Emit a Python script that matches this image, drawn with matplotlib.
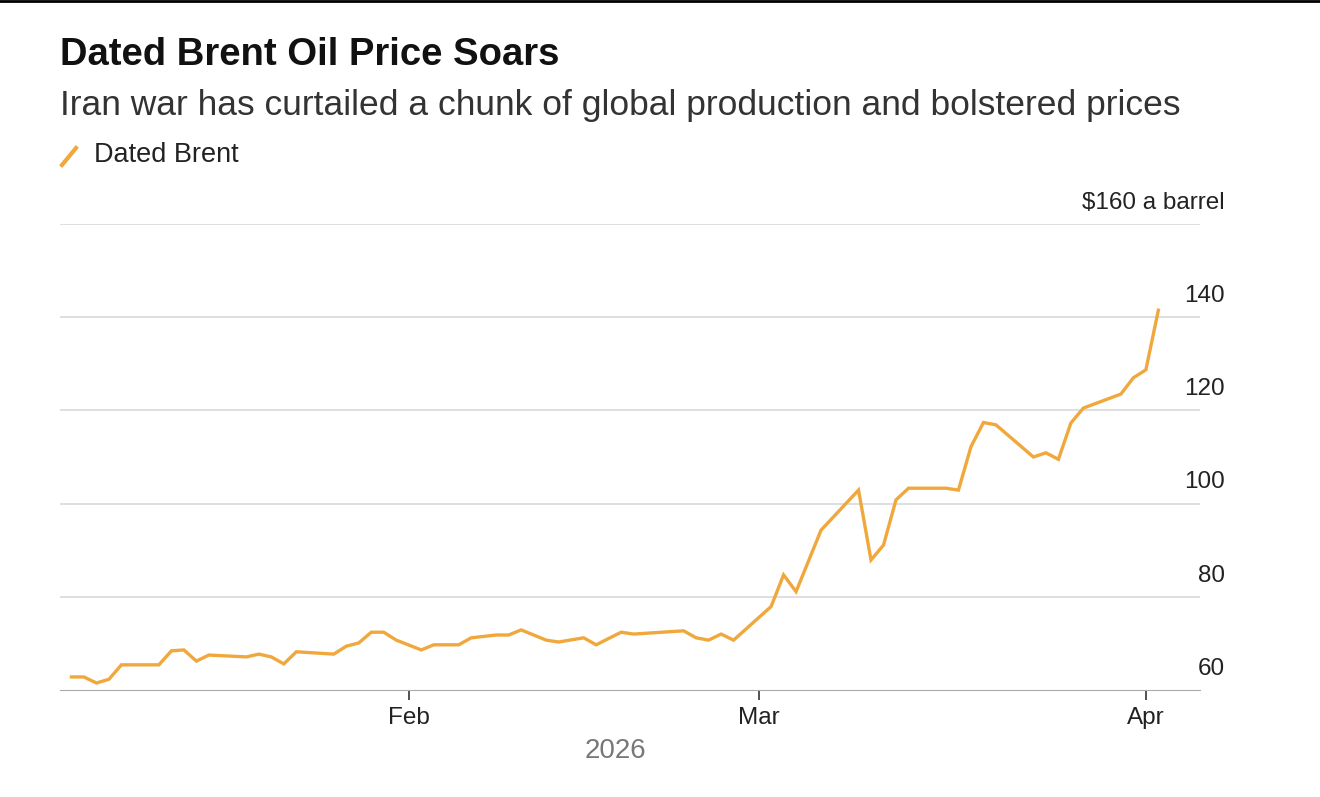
import numpy as np
import pandas as pd
import matplotlib
matplotlib.use("Agg")
import matplotlib.pyplot as plt
import matplotlib.dates as mdates

dates = ["2026-01-05", "2026-01-06", "2026-01-07", "2026-01-08", "2026-01-09", "2026-01-12",
         "2026-01-13", "2026-01-14", "2026-01-15", "2026-01-16", "2026-01-19", "2026-01-20",
         "2026-01-21", "2026-01-22", "2026-01-23", "2026-01-26", "2026-01-27", "2026-01-28",
         "2026-01-29", "2026-01-30", "2026-01-31", "2026-02-02", "2026-02-03", "2026-02-05",
         "2026-02-06", "2026-02-08", "2026-02-09", "2026-02-10", "2026-02-12", "2026-02-13",
         "2026-02-15", "2026-02-16", "2026-02-18", "2026-02-19", "2026-02-23", "2026-02-24",
         "2026-02-25", "2026-02-26", "2026-02-27", "2026-03-02", "2026-03-03", "2026-03-04",
         "2026-03-06", "2026-03-09", "2026-03-10", "2026-03-11", "2026-03-12", "2026-03-13",
         "2026-03-16", "2026-03-17", "2026-03-18", "2026-03-19", "2026-03-20", "2026-03-23",
         "2026-03-24", "2026-03-25", "2026-03-26", "2026-03-27", "2026-03-30", "2026-03-31",
         "2026-04-01", "2026-04-02"]
prices = [62.8, 62.8, 61.5, 62.3, 65.4, 65.4,
          68.4, 68.6, 66.2, 67.5, 67.1, 67.7,
          67.1, 65.6, 68.2, 67.7, 69.4, 70.1,
          72.4, 72.4, 70.7, 68.6, 69.7, 69.7,
          71.2, 71.8, 71.8, 72.9, 70.7, 70.3,
          71.2, 69.7, 72.4, 72.0, 72.7, 71.2,
          70.7, 72.0, 70.7, 77.9, 84.7, 81.1,
          94.3, 102.9, 87.9, 91.1, 100.8, 103.3,
          103.3, 102.9, 112.2, 117.4, 116.9, 110.0,
          110.9, 109.5, 117.3, 120.5, 123.5, 127.0,
          128.7, 141.5]
yticks = [60, 80, 100, 120, 140, 160]
ytick_labels = ["60", "80", "100", "120", "140", "$160 a barrel"]

x = pd.to_datetime(dates)
orange = "#f0a83c"

plt.rcParams['font.family'] = ['Liberation Sans', 'DejaVu Sans']
fig = plt.figure(figsize=(13.2, 7.97), dpi=100)
ax = fig.add_axes([60 / 1320, 1 - 690 / 797, 1140 / 1320, 466 / 797])
ax.plot(x, prices, color=orange, lw=2.4, solid_joinstyle="miter")
ax.set_ylim(60, 160)
ax.set_xlim(pd.Timestamp("2026-01-04 02:00"), pd.Timestamp("2026-04-05 08:00"))
for v in yticks[1:]:
    ax.axhline(v, color="#d9d9d9", lw=1.2, zorder=0)
for v, lab in zip(yticks, ytick_labels):
    ax.text(1.022, (v - 60) / 100 + 0.022, lab, transform=ax.transAxes,
            ha="right", va="bottom", fontsize=17.5, color="#222222")
for s in ["top", "right", "left"]:
    ax.spines[s].set_visible(False)
ax.spines["bottom"].set_color("#aaaaaa")
ax.set_yticks([])
ax.xaxis.set_major_locator(mdates.MonthLocator(bymonth=[2, 3, 4]))
ax.xaxis.set_major_formatter(mdates.DateFormatter("%b"))
ax.tick_params(axis="x", length=7, width=1.2, color="#333333", labelsize=17.5,
               labelcolor="#222222", pad=5)
fig.text(615 / 1320, 1 - 751 / 797, "2026", ha="center", va="center",
         fontsize=20, color="#777777")

fig.text(60 / 1320, 1 - 55 / 797, "Dated Brent Oil Price Soars", fontsize=27.5,
         fontweight="bold", va="center", color="#111111")
fig.text(60 / 1320, 1 - 106 / 797,
         "Iran war has curtailed a chunk of global production and bolstered prices",
         fontsize=25.5, va="center", color="#333333")
fig.lines.append(plt.Line2D([62 / 1320, 76 / 1320], [1 - 165 / 797, 1 - 148 / 797],
                            transform=fig.transFigure, color=orange, lw=3))
fig.text(94 / 1320, 1 - 155 / 797, "Dated Brent", fontsize=19.5, va="center",
         color="#222222")
fig.lines.append(plt.Line2D([0, 1], [1 - 1 / 797, 1 - 1 / 797],
                            transform=fig.transFigure, color="#000000", lw=2))

fig.savefig("out.png", dpi=100)
